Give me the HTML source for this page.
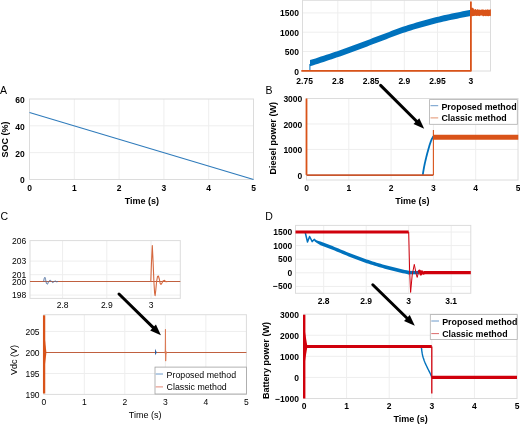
<!DOCTYPE html>
<html><head><meta charset="utf-8"><style>
html,body{margin:0;padding:0;background:#fff;}
svg{display:block;will-change:transform;font-family:"Liberation Sans",sans-serif;}
</style></head><body>
<svg width="520" height="424" viewBox="0 0 520 424">
<rect width="520" height="424" fill="#fff"/>
<line x1="337.84" y1="0.3" x2="337.84" y2="71" stroke="#eeeeee" stroke-width="1" />
<line x1="371.08" y1="0.3" x2="371.08" y2="71" stroke="#eeeeee" stroke-width="1" />
<line x1="404.32" y1="0.3" x2="404.32" y2="71" stroke="#eeeeee" stroke-width="1" />
<line x1="437.56" y1="0.3" x2="437.56" y2="71" stroke="#eeeeee" stroke-width="1" />
<line x1="470.8" y1="0.3" x2="470.8" y2="71" stroke="#eeeeee" stroke-width="1" />
<line x1="302.5" y1="51.5" x2="490.5" y2="51.5" stroke="#eeeeee" stroke-width="1" />
<line x1="302.5" y1="32.2" x2="490.5" y2="32.2" stroke="#eeeeee" stroke-width="1" />
<line x1="302.5" y1="12.9" x2="490.5" y2="12.9" stroke="#eeeeee" stroke-width="1" />
<rect x="302.5" y="0.3" width="188" height="70.7" fill="none" stroke="#dcdcdc" stroke-width="1"/>
<text x="304.6" y="83.7" text-anchor="middle" font-weight="bold" font-size="8.5" >2.75</text>
<text x="337.84" y="83.7" text-anchor="middle" font-weight="bold" font-size="8.5" >2.8</text>
<text x="371.08" y="83.7" text-anchor="middle" font-weight="bold" font-size="8.5" >2.85</text>
<text x="404.32" y="83.7" text-anchor="middle" font-weight="bold" font-size="8.5" >2.9</text>
<text x="437.56" y="83.7" text-anchor="middle" font-weight="bold" font-size="8.5" >2.95</text>
<text x="470.8" y="83.7" text-anchor="middle" font-weight="bold" font-size="8.5" >3</text>
<text x="299" y="75" text-anchor="end" font-weight="bold" font-size="8.5" >0</text>
<text x="299" y="55.3" text-anchor="end" font-weight="bold" font-size="8.5" >500</text>
<text x="299" y="35.8" text-anchor="end" font-weight="bold" font-size="8.5" >1000</text>
<text x="299" y="16.3" text-anchor="end" font-weight="bold" font-size="8.5" >1500</text>
<polygon fill="#0072BD" points="310,60.1 312.73,59.24 315.45,58.38 318.18,57.5 320.91,56.62 323.64,55.73 326.36,54.83 329.09,53.92 331.82,53.01 334.54,52.08 337.27,51.14 340,50.2 342.73,49.24 345.45,48.27 348.18,47.29 350.91,46.29 353.63,45.29 356.36,44.28 359.09,43.26 361.82,42.24 364.54,41.21 367.27,40.18 370,39.15 372.72,38.12 375.45,37.1 378.18,36.08 380.91,35.06 383.63,34.03 386.36,32.98 389.09,31.92 391.81,30.86 394.54,29.82 397.27,28.8 399.99,27.81 402.72,26.86 405.45,25.96 408.18,25.08 410.9,24.23 413.63,23.39 416.36,22.57 419.08,21.77 421.81,20.98 424.54,20.22 427.27,19.47 429.99,18.74 432.72,18.03 435.45,17.33 438.17,16.66 440.9,16 443.63,15.37 446.36,14.76 449.08,14.17 451.81,13.59 454.54,13.02 457.26,12.46 459.99,11.9 462.72,11.36 465.45,10.82 468.17,10.31 470.9,9.8 470.9,16 468.17,16.51 465.45,17.02 462.72,17.56 459.99,18.1 457.26,18.66 454.54,19.22 451.81,19.79 449.08,20.37 446.36,20.96 443.63,21.57 440.9,22.2 438.17,22.86 435.45,23.53 432.72,24.23 429.99,24.94 427.27,25.67 424.54,26.42 421.81,27.18 419.08,27.97 416.36,28.77 413.63,29.59 410.9,30.43 408.18,31.28 405.45,32.16 402.72,33.06 399.99,34.01 397.27,35 394.54,36.02 391.81,37.06 389.09,38.12 386.36,39.18 383.63,40.23 380.91,41.26 378.18,42.28 375.45,43.3 372.72,44.32 370,45.35 367.27,46.38 364.54,47.41 361.82,48.44 359.09,49.46 356.36,50.48 353.63,51.49 350.91,52.49 348.18,53.49 345.45,54.47 342.73,55.44 340,56.4 337.27,57.34 334.54,58.28 331.82,59.21 329.09,60.12 326.36,61.03 323.64,61.93 320.91,62.82 318.18,63.7 315.45,64.58 312.73,65.44 310,66.3"/>
<line x1="309.9" y1="70" x2="309.9" y2="64" stroke="#0072BD" stroke-width="1" />
<polyline fill="none" stroke="#D95319" stroke-width="1.8" stroke-linejoin="round"  points="301.3,70.8 470.9,70.8 470.9,1.5"/>
<polygon fill="#D95319" points="470.9,7.54 471.7,7.84 472.5,7.67 473.3,7.9 474.1,9.73 474.9,9.17 475.7,9.11 476.5,9.94 477.3,9.36 478.1,9.33 478.9,10.1 479.7,9.57 480.5,9.94 481.3,9.58 482.1,9.74 482.9,9.25 483.7,9.73 484.5,9.97 485.3,9.62 486.1,9.84 486.9,9.77 487.7,9.16 488.5,9.86 489.3,9.69 490.1,9.4 490.9,9.13 490.9,16.27 490.1,15.87 489.3,16.12 488.5,16.28 487.7,16.11 486.9,16.32 486.1,15.79 485.3,16.2 484.5,15.84 483.7,16.34 482.9,16.28 482.1,15.5 481.3,15.54 480.5,15.62 479.7,16.37 478.9,15.84 478.1,16.03 477.3,15.7 476.5,15.91 475.7,15.79 474.9,15.75 474.1,15.99 473.3,15.98 472.5,16.3 471.7,16.08 470.9,16.33"/>
<text x="0" y="93.6" text-anchor="start" font-weight="normal" font-size="10.5" >A</text>
<line x1="74.3" y1="99" x2="74.3" y2="179.5" stroke="#eeeeee" stroke-width="1" />
<line x1="119.1" y1="99" x2="119.1" y2="179.5" stroke="#eeeeee" stroke-width="1" />
<line x1="163.9" y1="99" x2="163.9" y2="179.5" stroke="#eeeeee" stroke-width="1" />
<line x1="208.7" y1="99" x2="208.7" y2="179.5" stroke="#eeeeee" stroke-width="1" />
<line x1="29.5" y1="152.67" x2="253.5" y2="152.67" stroke="#eeeeee" stroke-width="1" />
<line x1="29.5" y1="125.84" x2="253.5" y2="125.84" stroke="#eeeeee" stroke-width="1" />
<rect x="29.5" y="99" width="224" height="80.5" fill="none" stroke="#dcdcdc" stroke-width="1"/>
<text x="29.5" y="191" text-anchor="middle" font-weight="bold" font-size="8.5" >0</text>
<text x="74.3" y="191" text-anchor="middle" font-weight="bold" font-size="8.5" >1</text>
<text x="119.1" y="191" text-anchor="middle" font-weight="bold" font-size="8.5" >2</text>
<text x="163.9" y="191" text-anchor="middle" font-weight="bold" font-size="8.5" >3</text>
<text x="208.7" y="191" text-anchor="middle" font-weight="bold" font-size="8.5" >4</text>
<text x="253.5" y="191" text-anchor="middle" font-weight="bold" font-size="8.5" >5</text>
<text x="24.8" y="183.4" text-anchor="end" font-weight="bold" font-size="8.5" >0</text>
<text x="24.8" y="156.57" text-anchor="end" font-weight="bold" font-size="8.5" >20</text>
<text x="24.8" y="129.74" text-anchor="end" font-weight="bold" font-size="8.5" >40</text>
<text x="24.8" y="102.51" text-anchor="end" font-weight="bold" font-size="8.5" >60</text>
<line x1="29.5" y1="112.43" x2="253.5" y2="179.5" stroke="#2f7bbb" stroke-width="1.1" />
<text x="141.8" y="203.6" text-anchor="middle" font-weight="bold" font-size="9" >Time (s)</text>
<text x="0" y="0" text-anchor="middle" font-weight="bold" font-size="9" transform="translate(7.7,139.5) rotate(-90)">SOC (%)</text>
<text x="265.5" y="94.1" text-anchor="start" font-weight="normal" font-size="10.5" >B</text>
<line x1="348.8" y1="98.5" x2="348.8" y2="180" stroke="#eeeeee" stroke-width="1" />
<line x1="391.1" y1="98.5" x2="391.1" y2="180" stroke="#eeeeee" stroke-width="1" />
<line x1="433.4" y1="98.5" x2="433.4" y2="180" stroke="#eeeeee" stroke-width="1" />
<line x1="475.7" y1="98.5" x2="475.7" y2="180" stroke="#eeeeee" stroke-width="1" />
<line x1="306.5" y1="149.43" x2="518" y2="149.43" stroke="#eeeeee" stroke-width="1" />
<line x1="306.5" y1="123.96" x2="518" y2="123.96" stroke="#eeeeee" stroke-width="1" />
<rect x="306.5" y="98.5" width="211.5" height="81.5" fill="none" stroke="#dcdcdc" stroke-width="1"/>
<text x="306.5" y="190.7" text-anchor="middle" font-weight="bold" font-size="8.5" >0</text>
<text x="348.8" y="190.7" text-anchor="middle" font-weight="bold" font-size="8.5" >1</text>
<text x="391.1" y="190.7" text-anchor="middle" font-weight="bold" font-size="8.5" >2</text>
<text x="433.4" y="190.7" text-anchor="middle" font-weight="bold" font-size="8.5" >3</text>
<text x="475.7" y="190.7" text-anchor="middle" font-weight="bold" font-size="8.5" >4</text>
<text x="518" y="190.7" text-anchor="middle" font-weight="bold" font-size="8.5" >5</text>
<text x="302.3" y="179.3" text-anchor="end" font-weight="bold" font-size="8.5" >0</text>
<text x="302.3" y="153.33" text-anchor="end" font-weight="bold" font-size="8.5" >1000</text>
<text x="302.3" y="127.86" text-anchor="end" font-weight="bold" font-size="8.5" >2000</text>
<text x="302.3" y="102.39" text-anchor="end" font-weight="bold" font-size="8.5" >3000</text>
<text x="412.3" y="203.5" text-anchor="middle" font-weight="bold" font-size="9" >Time (s)</text>
<text x="0" y="0" text-anchor="middle" font-weight="bold" font-size="9" transform="translate(275.9,138.3) rotate(-90)">Diesel power (W)</text>
<polyline fill="none" stroke="#0072BD" stroke-width="1.8" stroke-linejoin="round"  points="422.8,174.9 422.99,173.57 423.19,172.24 423.4,170.91 423.62,169.58 423.86,168.24 424.1,166.91 424.37,165.58 424.64,164.25 424.93,162.92 425.23,161.59 425.54,160.26 425.85,158.93 426.18,157.6 426.51,156.27 426.85,154.93 427.2,153.6 427.56,152.27 427.93,150.94 428.31,149.61 428.69,148.28 429.06,146.95 429.45,145.62 429.86,144.29 430.29,142.96 430.76,141.62 431.28,140.29 431.88,138.96 432.61,137.63 433.4,136.3"/>
<polyline fill="none" stroke="#D95319" stroke-width="1.8" stroke-linejoin="round"  points="306.5,98.5 306.5,174.9"/>
<polyline fill="none" stroke="#C8552C" stroke-width="1.8" stroke-linejoin="round"  points="306.5,175.1 433.4,175.1"/>
<polyline fill="none" stroke="#D95319" stroke-width="1.1" stroke-linejoin="round"  points="433.4,174.9 433.4,130"/>
<line x1="433.4" y1="137.2" x2="518.3" y2="137.2" stroke="#D95319" stroke-width="4.9" />
<rect x="429.6" y="99.6" width="87.7" height="24.7" fill="#fff" stroke="#b0b0b0" stroke-width="0.8"/>
<line x1="430.5" y1="105.7" x2="438.2" y2="105.7" stroke="#5b8fc4" stroke-width="0.9" />
<line x1="430.5" y1="117.9" x2="438.2" y2="117.9" stroke="#e0865e" stroke-width="0.9" />
<text x="441.4" y="109.6" text-anchor="start" font-weight="bold" font-size="8.85" >Proposed method</text>
<text x="441.4" y="120.8" text-anchor="start" font-weight="bold" font-size="8.85" >Classic method</text>
<text x="0.6" y="220.4" text-anchor="start" font-weight="normal" font-size="10.5" >C</text>
<line x1="62.6" y1="240.6" x2="62.6" y2="298.4" stroke="#eeeeee" stroke-width="1" />
<line x1="106.8" y1="240.6" x2="106.8" y2="298.4" stroke="#eeeeee" stroke-width="1" />
<line x1="151" y1="240.6" x2="151" y2="298.4" stroke="#eeeeee" stroke-width="1" />
<line x1="30" y1="295.1" x2="180.3" y2="295.1" stroke="#eeeeee" stroke-width="1" />
<line x1="30" y1="281.5" x2="180.3" y2="281.5" stroke="#eeeeee" stroke-width="1" />
<line x1="30" y1="274.7" x2="180.3" y2="274.7" stroke="#eeeeee" stroke-width="1" />
<line x1="30" y1="261.1" x2="180.3" y2="261.1" stroke="#eeeeee" stroke-width="1" />
<rect x="30" y="240.6" width="150.3" height="57.8" fill="none" stroke="#dcdcdc" stroke-width="1"/>
<text x="62.6" y="308" text-anchor="middle" font-weight="normal" font-size="8.5" >2.8</text>
<text x="106.8" y="308" text-anchor="middle" font-weight="normal" font-size="8.5" >2.9</text>
<text x="151" y="308" text-anchor="middle" font-weight="normal" font-size="8.5" >3</text>
<text x="26.3" y="298.2" text-anchor="end" font-weight="normal" font-size="8.5" >198</text>
<text x="26.3" y="284.6" text-anchor="end" font-weight="normal" font-size="8.5" >200</text>
<text x="26.3" y="277.8" text-anchor="end" font-weight="normal" font-size="8.5" >201</text>
<text x="26.3" y="264.2" text-anchor="end" font-weight="normal" font-size="8.5" >203</text>
<text x="26.3" y="243.8" text-anchor="end" font-weight="normal" font-size="8.5" >206</text>
<line x1="30" y1="281.5" x2="180.3" y2="281.5" stroke="#C0603F" stroke-width="1" />
<polyline fill="none" stroke="#D5683F" stroke-width="1.1" stroke-linejoin="round"  points="150.3,281.5 150.8,281.5 151.5,262 152.3,245.5 153.1,262 153.9,281.5 154.6,293 155.1,295.7 155.8,290 156.6,281.5 157.5,276.5 158.4,276 159.3,279 160.2,283.5 161,284.3 162,283 163,281 164.5,280.3 166,281.8 168,281.5"/>
<polyline fill="none" stroke="#4f6f9f" stroke-width="0.9" stroke-linejoin="round"  points="43.6,281.5 44.2,278.5 44.9,277.3 45.6,279.5 46.4,283.4 47.5,284.2 48.6,281.6 49.6,280.4 50.6,280.3 51.7,281.8 52.8,282.6 54,281.6 55.3,281 56.6,281.8 58,281.5"/>
<line x1="84.32" y1="314.7" x2="84.32" y2="394.4" stroke="#eeeeee" stroke-width="1" />
<line x1="124.84" y1="314.7" x2="124.84" y2="394.4" stroke="#eeeeee" stroke-width="1" />
<line x1="165.36" y1="314.7" x2="165.36" y2="394.4" stroke="#eeeeee" stroke-width="1" />
<line x1="205.88" y1="314.7" x2="205.88" y2="394.4" stroke="#eeeeee" stroke-width="1" />
<line x1="43.8" y1="373.55" x2="246.4" y2="373.55" stroke="#eeeeee" stroke-width="1" />
<line x1="43.8" y1="352.5" x2="246.4" y2="352.5" stroke="#eeeeee" stroke-width="1" />
<line x1="43.8" y1="331.45" x2="246.4" y2="331.45" stroke="#eeeeee" stroke-width="1" />
<rect x="43.8" y="314.7" width="202.6" height="79.7" fill="none" stroke="#dcdcdc" stroke-width="1"/>
<text x="43.8" y="404.5" text-anchor="middle" font-weight="normal" font-size="8.5" >0</text>
<text x="84.32" y="404.5" text-anchor="middle" font-weight="normal" font-size="8.5" >1</text>
<text x="124.84" y="404.5" text-anchor="middle" font-weight="normal" font-size="8.5" >2</text>
<text x="165.36" y="404.5" text-anchor="middle" font-weight="normal" font-size="8.5" >3</text>
<text x="205.88" y="404.5" text-anchor="middle" font-weight="normal" font-size="8.5" >4</text>
<text x="246.4" y="404.5" text-anchor="middle" font-weight="normal" font-size="8.5" >5</text>
<text x="39.6" y="398.1" text-anchor="end" font-weight="normal" font-size="8.5" >190</text>
<text x="39.6" y="377.05" text-anchor="end" font-weight="normal" font-size="8.5" >195</text>
<text x="39.6" y="356" text-anchor="end" font-weight="normal" font-size="8.5" >200</text>
<text x="39.6" y="334.95" text-anchor="end" font-weight="normal" font-size="8.5" >205</text>
<text x="145.1" y="418.3" text-anchor="middle" font-weight="normal" font-size="9" >Time (s)</text>
<text x="0" y="0" text-anchor="middle" font-weight="normal" font-size="9" transform="translate(16.6,360) rotate(-90)">Vdc (V)</text>
<polyline fill="none" stroke="#D95319" stroke-width="2.3" stroke-linejoin="round"  points="44.1,315.3 44.1,393.5"/>
<polyline fill="none" stroke="#C0603F" stroke-width="1" stroke-linejoin="round"  points="43.8,352.5 246.4,352.5"/>
<polyline fill="none" stroke="#DB7A55" stroke-width="1" stroke-linejoin="round"  points="165.26,352.5 165.46,329.3 165.66,361.1 165.96,352.5"/>
<polygon fill="#2d5f9e" points="155,348.8 156.8,352.5 155,355.2"/>
<polygon fill="#DB7A55" points="164.36,352.5 165.56,350 166.96,352.5 165.56,355"/>
<polygon fill="#D95319" points="44.8,338 46.4,352.5 44.8,366"/>
<rect x="155" y="367.1" width="91.4" height="26.9" fill="#fff" stroke="#a0a0a0" stroke-width="0.8"/>
<line x1="155.7" y1="374" x2="163" y2="374" stroke="#5b8fc4" stroke-width="0.9" />
<line x1="155.7" y1="386.9" x2="163" y2="386.9" stroke="#e07a6a" stroke-width="0.9" />
<text x="166.6" y="378.1" text-anchor="start" font-weight="normal" font-size="8.8" >Proposed method</text>
<text x="166.6" y="390.1" text-anchor="start" font-weight="normal" font-size="8.8" >Classic method</text>
<text x="265.2" y="219.5" text-anchor="start" font-weight="normal" font-size="10.5" >D</text>
<line x1="323.7" y1="225.4" x2="323.7" y2="293.3" stroke="#eeeeee" stroke-width="1" />
<line x1="366.2" y1="225.4" x2="366.2" y2="293.3" stroke="#eeeeee" stroke-width="1" />
<line x1="408.7" y1="225.4" x2="408.7" y2="293.3" stroke="#eeeeee" stroke-width="1" />
<line x1="451.2" y1="225.4" x2="451.2" y2="293.3" stroke="#eeeeee" stroke-width="1" />
<line x1="295.5" y1="286.4" x2="470.8" y2="286.4" stroke="#eeeeee" stroke-width="1" />
<line x1="295.5" y1="272.8" x2="470.8" y2="272.8" stroke="#eeeeee" stroke-width="1" />
<line x1="295.5" y1="259.2" x2="470.8" y2="259.2" stroke="#eeeeee" stroke-width="1" />
<line x1="295.5" y1="245.6" x2="470.8" y2="245.6" stroke="#eeeeee" stroke-width="1" />
<line x1="295.5" y1="232" x2="470.8" y2="232" stroke="#eeeeee" stroke-width="1" />
<rect x="295.5" y="225.4" width="175.3" height="67.9" fill="none" stroke="#dcdcdc" stroke-width="1"/>
<text x="323.7" y="304.2" text-anchor="middle" font-weight="bold" font-size="8.5" >2.8</text>
<text x="366.2" y="304.2" text-anchor="middle" font-weight="bold" font-size="8.5" >2.9</text>
<text x="408.7" y="304.2" text-anchor="middle" font-weight="bold" font-size="8.5" >3</text>
<text x="451.2" y="304.2" text-anchor="middle" font-weight="bold" font-size="8.5" >3.1</text>
<text x="292.2" y="289.4" text-anchor="end" font-weight="bold" font-size="8.5" >&#8722;500</text>
<text x="292.2" y="275.8" text-anchor="end" font-weight="bold" font-size="8.5" >0</text>
<text x="292.2" y="262.2" text-anchor="end" font-weight="bold" font-size="8.5" >500</text>
<text x="292.2" y="248.6" text-anchor="end" font-weight="bold" font-size="8.5" >1000</text>
<text x="292.2" y="235" text-anchor="end" font-weight="bold" font-size="8.5" >1500</text>
<polyline fill="none" stroke="#0072BD" stroke-width="1.5" stroke-linejoin="round"  points="305,231.5 307.5,242 309.6,236.5 312.2,241.6 314.2,239.4 316,241"/>
<polygon fill="#0072BD" points="314.5,239.47 316.51,240.26 318.51,240.98 320.52,241.57 322.53,242.37 324.53,243.1 326.54,243.8 328.54,244.51 330.55,245.26 332.56,246.06 334.56,246.88 336.57,247.71 338.58,248.55 340.58,249.4 342.59,250.24 344.6,251.08 346.6,251.9 348.61,252.71 350.61,253.49 352.62,254.26 354.63,255.03 356.63,255.8 358.64,256.55 360.65,257.3 362.65,258.03 364.66,258.74 366.67,259.44 368.67,260.12 370.68,260.77 372.69,261.41 374.69,262.03 376.7,262.64 378.7,263.23 380.71,263.82 382.72,264.39 384.72,264.94 386.73,265.49 388.74,266.02 390.74,266.54 392.75,267.05 394.76,267.55 396.76,268.04 398.77,268.52 400.77,268.99 402.78,269.45 404.79,269.89 406.79,270.33 408.8,270.75 408.8,274.45 406.79,274.03 404.79,273.59 402.78,273.15 400.77,272.69 398.77,272.22 396.76,271.74 394.76,271.25 392.75,270.75 390.74,270.24 388.74,269.72 386.73,269.19 384.72,268.64 382.72,268.09 380.71,267.52 378.7,266.93 376.7,266.34 374.69,265.73 372.69,265.11 370.68,264.47 368.67,263.82 366.67,263.14 364.66,262.44 362.65,261.73 360.65,261 358.64,260.25 356.63,259.5 354.63,258.73 352.62,257.96 350.61,257.19 348.61,256.41 346.6,255.6 344.6,254.78 342.59,253.94 340.58,253.1 338.58,252.25 336.57,251.41 334.56,250.58 332.56,249.76 330.55,248.96 328.54,248.21 326.54,247.5 324.53,246.8 322.53,246.07 320.52,245.27 318.51,244.05 316.51,242.7 314.5,241.27"/>
<line x1="408" y1="272.6" x2="419" y2="272.6" stroke="#0072BD" stroke-width="3.4" />
<line x1="295.5" y1="232" x2="408.7" y2="232" stroke="#D0000C" stroke-width="3.2" />
<polyline fill="none" stroke="#D0000C" stroke-width="1" stroke-linejoin="round"  points="408.7,232 409.6,270 410.6,292.4 412.2,275 414.3,264.4 416.2,274 417.2,277.4 418.4,272.6"/>
<polyline fill="none" stroke="#D0000C" stroke-width="2.6" stroke-linejoin="round"  points="418.4,272.6 419.5,270.8 420.8,274.2 422,271.6 423.4,273.4 425,272.2 427,272.8 429,272.6"/>
<line x1="424" y1="272.6" x2="470.8" y2="272.6" stroke="#D0000C" stroke-width="3.2" />
<line x1="346.6" y1="314.2" x2="346.6" y2="398.5" stroke="#eeeeee" stroke-width="1" />
<line x1="389.2" y1="314.2" x2="389.2" y2="398.5" stroke="#eeeeee" stroke-width="1" />
<line x1="431.8" y1="314.2" x2="431.8" y2="398.5" stroke="#eeeeee" stroke-width="1" />
<line x1="474.4" y1="314.2" x2="474.4" y2="398.5" stroke="#eeeeee" stroke-width="1" />
<line x1="304" y1="377.4" x2="517" y2="377.4" stroke="#eeeeee" stroke-width="1" />
<line x1="304" y1="356.33" x2="517" y2="356.33" stroke="#eeeeee" stroke-width="1" />
<line x1="304" y1="335.26" x2="517" y2="335.26" stroke="#eeeeee" stroke-width="1" />
<rect x="304" y="314.2" width="213" height="84.3" fill="none" stroke="#dcdcdc" stroke-width="1"/>
<text x="304" y="408.8" text-anchor="middle" font-weight="bold" font-size="8.5" >0</text>
<text x="346.6" y="408.8" text-anchor="middle" font-weight="bold" font-size="8.5" >1</text>
<text x="389.2" y="408.8" text-anchor="middle" font-weight="bold" font-size="8.5" >2</text>
<text x="431.8" y="408.8" text-anchor="middle" font-weight="bold" font-size="8.5" >3</text>
<text x="474.4" y="408.8" text-anchor="middle" font-weight="bold" font-size="8.5" >4</text>
<text x="517" y="408.8" text-anchor="middle" font-weight="bold" font-size="8.5" >5</text>
<text x="299" y="402.27" text-anchor="end" font-weight="bold" font-size="8.5" >&#8722;1000</text>
<text x="299" y="381.2" text-anchor="end" font-weight="bold" font-size="8.5" >0</text>
<text x="299" y="360.13" text-anchor="end" font-weight="bold" font-size="8.5" >1000</text>
<text x="299" y="339.06" text-anchor="end" font-weight="bold" font-size="8.5" >2000</text>
<text x="299" y="317.99" text-anchor="end" font-weight="bold" font-size="8.5" >3000</text>
<text x="410.6" y="422.3" text-anchor="middle" font-weight="bold" font-size="9" >Time (s)</text>
<text x="0" y="0" text-anchor="middle" font-weight="bold" font-size="9" transform="translate(269.2,360.6) rotate(-90)">Battery power (W)</text>
<polyline fill="none" stroke="#0072BD" stroke-width="1.4" stroke-linejoin="round"  points="421.4,346.5 421.45,347.57 421.54,348.64 421.65,349.71 421.79,350.78 421.95,351.84 422.12,352.91 422.3,353.98 422.51,355.05 422.77,356.12 423.08,357.19 423.42,358.26 423.77,359.33 424.14,360.4 424.54,361.47 424.97,362.53 425.44,363.6 425.92,364.67 426.42,365.74 426.91,366.81 427.42,367.88 427.95,368.95 428.5,370.02 429.05,371.09 429.59,372.16 430.1,373.22 430.6,374.29 431.08,375.36 431.54,376.43 432,377.5"/>
<polyline fill="none" stroke="#D0000C" stroke-width="2.4" stroke-linejoin="round"  points="304.2,314.7 304.2,398.5"/>
<polygon fill="#D0000C" points="305,332 307.4,346.5 305,361"/>
<line x1="304" y1="346.5" x2="431.8" y2="346.5" stroke="#D0000C" stroke-width="3.2" />
<polyline fill="none" stroke="#D0000C" stroke-width="1.3" stroke-linejoin="round"  points="431.8,346.5 431.8,393.6"/>
<line x1="431.8" y1="377.4" x2="517" y2="377.4" stroke="#D0000C" stroke-width="3.2" />
<rect x="430.3" y="314.6" width="86.9" height="24.8" fill="#fff" stroke="#b0b0b0" stroke-width="0.8"/>
<line x1="431.3" y1="321" x2="439" y2="321" stroke="#5b8fc4" stroke-width="0.9" />
<line x1="431.3" y1="333.6" x2="439" y2="333.6" stroke="#d85a5a" stroke-width="0.9" />
<text x="442.2" y="325.1" text-anchor="start" font-weight="bold" font-size="8.85" >Proposed method</text>
<text x="442.2" y="336.6" text-anchor="start" font-weight="bold" font-size="8.85" >Classic method</text>
<line x1="380.6" y1="85.4" x2="417.11" y2="121.75" stroke="#000" stroke-width="3.0" stroke-linecap="round"/>
<polygon points="424.2,128.8 413.51,123.95 419.3,118.13" fill="#000"/>
<line x1="119" y1="294" x2="153.77" y2="328.19" stroke="#000" stroke-width="3.0" stroke-linecap="round"/>
<polygon points="160.9,335.2 150.18,330.41 155.93,324.56" fill="#000"/>
<line x1="372.8" y1="284.8" x2="407.64" y2="318.72" stroke="#000" stroke-width="3.0" stroke-linecap="round"/>
<polygon points="414.8,325.7 404.06,320.96 409.78,315.09" fill="#000"/>
</svg></body></html>
